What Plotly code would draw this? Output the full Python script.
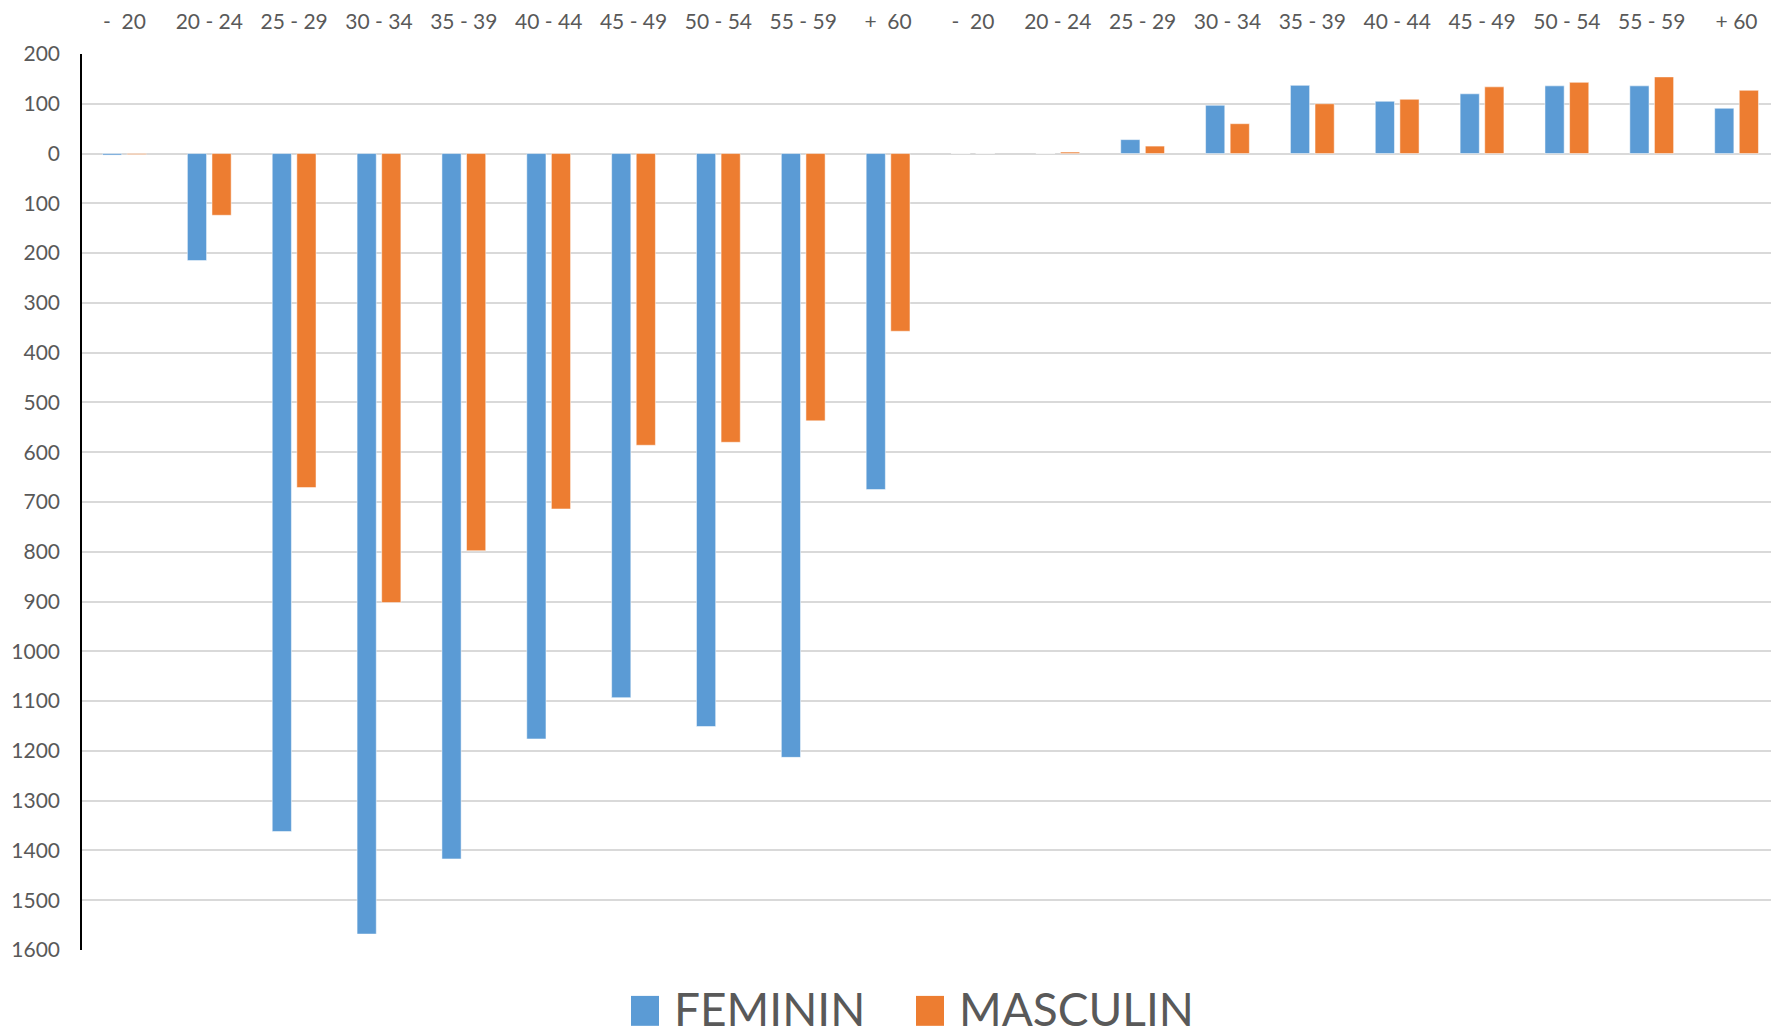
import plotly.graph_objects as go

# ---- data ----
age_bands_a = ["-\u00a0\u00a020", "20 - 24", "25 - 29", "30 - 34", "35 - 39", "40 - 44",
               "45 - 49", "50 - 54", "55 - 59", "+\u00a0\u00a060"]
age_bands_b = ["-\u00a0\u00a020", "20 - 24", "25 - 29", "30 - 34", "35 - 39", "40 - 44",
               "45 - 49", "50 - 54", "55 - 59", "+ 60"]
tick_labels = age_bands_a + age_bands_b

feminin = [-3, -215, -1362, -1568, -1417, -1176, -1093, -1151, -1213, -675,
           0, 0, 28, 97, 137, 105, 120, 136, 136, 91]
masculin = [-2, -124, -671, -902, -798, -714, -586, -580, -537, -357,
            0, 3, 15, 60, 100, 109, 134, 143, 154, 127]

y_ticks = list(range(200, -1601, -100))
y_tick_text = [str(abs(v)) for v in y_ticks]

BLUE = "#5B9BD5"
ORANGE = "#ED7D31"
TXT = "#595959"
GRID = "#D9D9D9"

# page body has an 8px margin: figure drawn at (8, 8)
OFF = 8
W, H = 1779 - OFF, 1031 - OFF
ML, MR, MT, MB = 82 - OFF, 0, 52 - OFF, 1031 - 950

x = list(range(len(tick_labels)))

fig = go.Figure()
fig.add_trace(go.Bar(x=x, y=feminin, name="FEMININ", marker_color=BLUE,
                     marker_line=dict(color="rgba(255,255,255,0.5)", width=1)))
fig.add_trace(go.Bar(x=x, y=masculin, name="MASCULIN", marker_color=ORANGE,
                     marker_line=dict(color="rgba(255,255,255,0.5)", width=1)))

fig.update_layout(
    width=W, height=H,
    margin=dict(l=ML, r=MR, t=MT, b=MB, pad=0),
    paper_bgcolor="white", plot_bgcolor="white",
    barmode="group", bargap=0.42, bargroupgap=0.22,
    showlegend=False,
    font=dict(family="Lato, 'Open Sans', sans-serif", size=21, color=TXT),
)
fig.update_xaxes(
    side="top", range=[-0.5, len(x) - 0.5],
    tickmode="array", tickvals=x, ticktext=tick_labels,
    showgrid=False, zeroline=False, showline=False, ticks="",
    ticklabelstandoff=20, tickfont=dict(size=21, color=TXT),
)
fig.update_yaxes(
    range=[-1600, 200], tickmode="array", tickvals=y_ticks, ticktext=y_tick_text,
    showgrid=True, gridcolor=GRID, gridwidth=1.5,
    zeroline=True, zerolinecolor=GRID, zerolinewidth=1.5,
    showline=True, linecolor="black", linewidth=1.5, ticks="",
    ticklabelstandoff=16, tickfont=dict(size=21, color=TXT),
)

# manual legend (large squares); positions given in window pixels
pw = W - ML - MR
ph = H - MT - MB

def px_to_paper_x(px):
    return (px - OFF - ML) / pw

def px_to_paper_y(py):
    return (H - MB - (py - OFF)) / ph

legend_items = [("FEMININ", BLUE, 631), ("MASCULIN", ORANGE, 916)]
for label, color, x0 in legend_items:
    fig.add_shape(type="rect", xref="paper", yref="paper",
                  x0=px_to_paper_x(x0), x1=px_to_paper_x(x0 + 28),
                  y0=px_to_paper_y(1026), y1=px_to_paper_y(996),
                  fillcolor=color, line=dict(width=0))
    fig.add_annotation(xref="paper", yref="paper", x=px_to_paper_x(x0 + 41),
                       y=px_to_paper_y(1009), text=label, showarrow=False,
                       xanchor="left", yanchor="middle",
                       font=dict(size=46, color=TXT, family="Lato, sans-serif"))

fig.write_html("out.html")
